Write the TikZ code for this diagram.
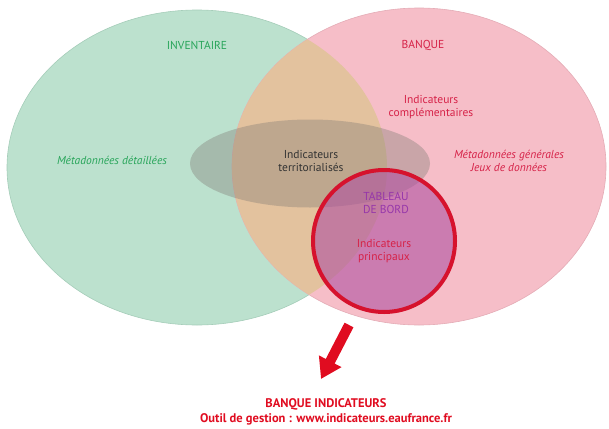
\documentclass[tikz,border=0pt]{standalone}
\usepackage{fontspec}
\setmainfont{PT Sans}
\usetikzlibrary{arrows.meta}
\definecolor{invfill}{RGB}{188,225,206}
\definecolor{invedge}{RGB}{165,205,185}
\definecolor{bqfill}{RGB}{246,190,200}
\definecolor{bqedge}{RGB}{228,172,182}
\definecolor{lens}{RGB}{227,194,158}
\definecolor{veil}{RGB}{130,125,118}
\definecolor{tabfill}{RGB}{175,80,160}
\definecolor{tabring}{RGB}{214,18,45}
\definecolor{invtext}{RGB}{40,165,90}
\definecolor{bqtext}{RGB}{214,34,72}
\definecolor{tabtext}{RGB}{150,55,170}
\definecolor{arrowred}{RGB}{224,12,32}
\tikzset{
  label/.style={align=center, font=\fontsize{11.5}{13.5}\selectfont, inner sep=1pt},
  inv/.style={label, text=invtext},
  bq/.style={label, text=bqtext}
}

\begin{document}
\begin{tikzpicture}[x=1pt, y=-1pt]
\useasboundingbox (0,0) rectangle (609,428);
\filldraw[fill=invfill, draw=invedge, line width=0.6pt] (197,167.5) ellipse [x radius=190pt, y radius=157.5pt];
\filldraw[fill=bqfill, draw=bqedge, line width=0.6pt] (419,166.5) ellipse [x radius=187pt, y radius=158.5pt];
\begin{scope}
\clip (197,167.5) ellipse [x radius=190pt, y radius=157.5pt];
\fill[lens] (419,166.5) ellipse [x radius=187pt, y radius=158.5pt];
\end{scope}
\fill[veil, opacity=0.38] (310,163.5) ellipse [x radius=120pt, y radius=44pt];
\fill[tabfill, opacity=0.6] (384,241) ellipse [x radius=71pt, y radius=71pt];
\draw[tabring, line width=4pt] (384,241) ellipse [x radius=71pt, y radius=71pt];

\node[inv] (inventaire) at (197,45) {INVENTAIRE};
\node[inv] (metadet) at (112,160) {\itshape Métadonnées détaillées};
\node[bq] (banque) at (423,45) {BANQUE};
\node[bq] (complem) at (431,107) {Indicateurs\\complémentaires};
\node[bq] (metagen) at (509,161) {\itshape Métadonnées générales\\\itshape Jeux de données};
\node[label, text=black!80] (territ) at (311,161) {Indicateurs\\territorialisés};
\node[label, text=tabtext] (tableau) at (386,203) {TABLEAU\\DE BORD};
\node[bq] (principaux) at (384,251) {Indicateurs\\principaux};

\coordinate (arrowtail) at (349,325);
\coordinate (arrowtip) at (321,379);
\draw[arrowred, line width=10pt, -{Triangle[width=24pt, length=20pt]}] (arrowtail) -- (arrowtip);

\node[label, text=arrowred, font=\fontsize{12.5}{15}\selectfont\bfseries] (outil) at (326,412) {BANQUE INDICATEURS\\Outil de gestion : www.indicateurs.eaufrance.fr};
\end{tikzpicture}
\end{document}
